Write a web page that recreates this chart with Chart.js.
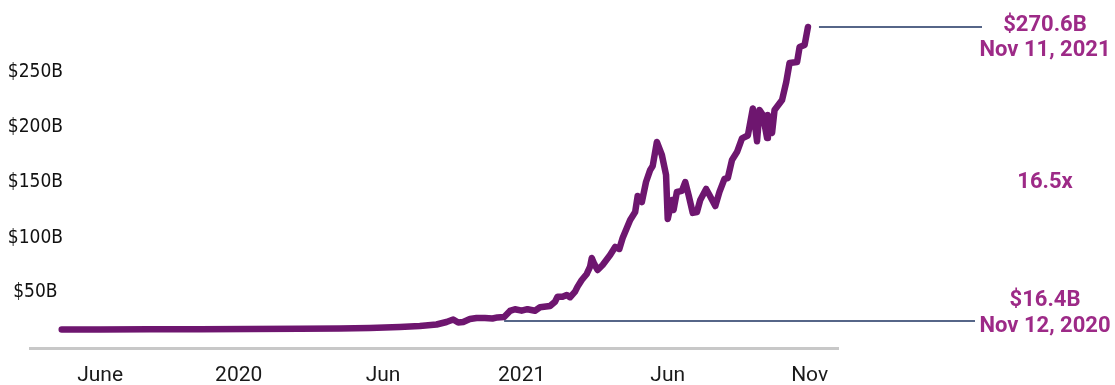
<!DOCTYPE html>
<html>
<head>
<meta charset="utf-8">
<script src="https://cdn.jsdelivr.net/npm/chart.js@4.4.1/dist/chart.umd.min.js"></script>
<style>
  html, body { margin: 0; padding: 0; background: #fff; }
  #wrap { width: 1115px; height: 385px; position: relative; }
</style>
</head>
<body>
<div id="wrap"><canvas id="tvlChart"></canvas></div>
<script>
// days counted from 1 Jun 2019, values in $B
const days = [
    0, 46, 105, 165, 225, 285, 333, 369, 405, 429, 449, 461, 469, 475, 481, 489, 497, 507, 516, 522,
    530, 537, 543, 551, 558, 567, 573, 585, 591, 594, 600, 605, 609, 615, 618, 623, 629, 633, 635, 638,
    642, 648, 657, 663, 668, 672, 677, 681, 687, 690, 695, 700, 705, 708, 713, 719, 724, 726, 731, 733,
    737, 743, 747, 751, 756, 761, 765, 772, 776, 783, 788, 794, 798, 803, 809, 815, 822, 828, 833, 836,
    840, 845, 846, 851, 854, 863, 868, 872, 881, 884, 890, 894
];
const values = [
    5.4, 5.4, 5.6, 5.7, 5.9, 6.1, 6.3, 6.8, 7.6, 8.5, 9.8, 12.0, 14.2, 11.6, 12.0, 14.6, 15.5, 15.5, 15.1, 16.0,
    16.4, 21.7, 23.2, 21.9, 23.2, 21.9, 24.9, 26.0, 29.8, 34.2, 34.2, 35.7, 33.7, 38.6, 43.0, 48.8, 54.1, 60.5, 68.1, 62.9,
    57.6, 62.0, 70.7, 77.8, 76.0, 85.6, 94.4, 101.4, 108.4, 122.5, 117.2, 134.7, 145.3, 148.8, 169.8, 158.4, 140.9, 102.3, 119.0, 110.2,
    126.0, 126.9, 134.7, 123.3, 107.6, 108.4, 119.0, 128.6, 123.3, 113.7, 126.0, 137.4, 138.2, 154.0, 161.0, 172.9, 175.5, 199.2, 170.5, 197.9,
    193.5, 173.3, 193.5, 177.7, 197.9, 206.6, 222.4, 239.1, 239.9, 253.1, 254.8, 270.6
];

// axis ticks
const xTickDays = [46, 212, 385, 551, 726, 896];
const xTickLabels = ['June', '2020', 'Jun', '2021', 'Jun', 'Nov'];
const yTickValues = [38, 86, 135, 183, 231];
const yTickLabels = ['$50B', '$100B', '$150B', '$200B', '$250B'];

// callouts: start and end of the 12-month window
const startDay = 530, startValue = 16.4, startText = ['$16.4B', 'Nov 12, 2020'];
const endDay = 894, endValue = 270.6, endText = ['$270.6B', 'Nov 11, 2021'];
const growthText = '16.5x';

const lineColor = '#6e166f';
const calloutColor = '#9d2a87';
const yAxisFont = "'DejaVu Sans Condensed', 'Liberation Sans Narrow', Roboto, sans-serif";
const xAxisFont = "Roboto, sans-serif";

const points = days.map((d, i) => ({ x: d, y: values[i] }));

// draws the leader lines and the callout text on the right
const calloutPlugin = {
    id: 'callouts',
    afterDatasetsDraw(chart) {
        const { ctx, scales: { x, y } } = chart;
        const ex = x.getPixelForValue(endDay), ey = y.getPixelForValue(endValue);
        const sx = x.getPixelForValue(startDay), sy = y.getPixelForValue(startValue);
        ctx.save();
        ctx.strokeStyle = '#1f3561';
        ctx.lineWidth = 1.5;
        ctx.beginPath();
        ctx.moveTo(ex + 11, ey);
        ctx.lineTo(982, ey);
        ctx.moveTo(sx, sy + 4);
        ctx.lineTo(975, sy + 4);
        ctx.stroke();

        ctx.fillStyle = calloutColor;
        ctx.font = "bold 22px Roboto, sans-serif";
        ctx.textAlign = 'center';
        ctx.textBaseline = 'middle';
        const cx = 1045;
        ctx.fillText(endText[0], cx, 25);
        ctx.fillText(endText[1], cx, 50);
        ctx.fillText(growthText, cx, 182);
        ctx.fillText(startText[0], cx, 300);
        ctx.fillText(startText[1], cx, 326);
        ctx.restore();
    }
};

new Chart(document.getElementById('tvlChart'), {
    type: 'line',
    data: {
        datasets: [{
            data: points,
            borderColor: lineColor,
            borderWidth: 6.5,
            borderCapStyle: 'round',
            borderJoinStyle: 'round',
            pointRadius: 0,
            tension: 0,
            fill: false
        }]
    },
    options: {
        responsive: true,
        maintainAspectRatio: false,
        animation: false,
        layout: {
            padding: { left: 0, right: 277, top: 10, bottom: 0 }
        },
        plugins: {
            legend: { display: false },
            tooltip: { enabled: false }
        },
        scales: {
            x: {
                type: 'linear',
                min: -38,
                max: 930,
                grid: { display: false, drawTicks: false },
                border: { display: true, color: '#c8c8c8', width: 3 },
                afterBuildTicks: (scale) => {
                    scale.ticks = xTickDays.map(v => ({ value: v }));
                },
                afterFit: (scale) => { scale.height = 37; },
                ticks: {
                    autoSkip: false,
                    maxRotation: 0,
                    padding: 15,
                    color: '#1a1a1a',
                    font: { family: xAxisFont, size: 21 },
                    callback: (value, index) => xTickLabels[index]
                }
            },
            y: {
                min: -10.8,
                max: 285.5,
                grid: { display: false, drawTicks: false },
                border: { display: false },
                afterBuildTicks: (scale) => {
                    scale.ticks = yTickValues.map(v => ({ value: v }));
                },
                afterFit: (scale) => {
                    // narrow axis box; labels hang over the left end of the baseline
                    scale.width = 30;
                    scale._computeLabelArea = () => undefined;
                },
                ticks: {
                    crossAlign: 'center',
                    padding: -33,
                    color: '#111',
                    font: { family: yAxisFont, size: 19 },
                    callback: (value, index) => yTickLabels[index]
                }
            }
        }
    },
    plugins: [calloutPlugin]
});
</script>
</body>
</html>
